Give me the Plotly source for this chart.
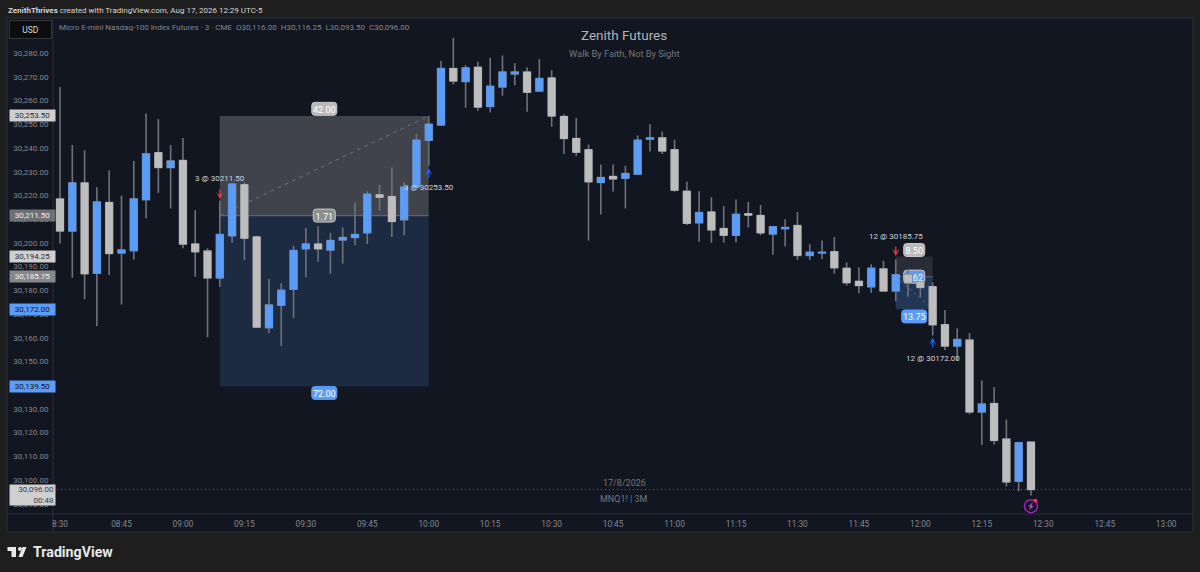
import pandas as pd
import plotly.graph_objects as go

W, H = 1200, 572
LEFT, RIGHT, TOP, BOTTOM = 53, 1193, 18, 514

opens = [
    30218.5, 30205, 30225.25, 30187.25, 30217, 30195.75, 30196.75, 30218.25, 30238, 30231.75,
    30234.75, 30199.5, 30196.5, 30185.25, 30203, 30224.5, 30202.5, 30164.25, 30173.75, 30180.5,
    30197.5, 30199.5, 30197, 30201.25, 30202.25, 30204.25, 30220.25, 30219.5, 30209.75, 30223.5,
    30243.25, 30249.75, 30273.5, 30268, 30274, 30257.5, 30265.75, 30271.25, 30272, 30264,
    30269.5, 30253.25, 30244, 30239.25, 30225.5, 30228, 30227.25, 30229, 30243.75, 30244.25,
    30239.25, 30221.75, 30208.5, 30213, 30206, 30203.25, 30212.25, 30211.5, 30203.75, 30206,
    30207.25, 30194.75, 30195.75, 30196.25, 30189.25, 30183.75, 30181.5, 30189, 30179.75, 30186.5,
    30183.5, 30181.5, 30165.5, 30156.5, 30159, 30128.75, 30132.25, 30117.25, 30099.5, 30116,
]
highs = [
    30265.75, 30241.25, 30239, 30223.5, 30230.5, 30220, 30234.5, 30254.5, 30252.25, 30241.25,
    30244.25, 30213.75, 30197.75, 30217.75, 30225.25, 30225.5, 30203, 30184.75, 30183, 30198.75,
    30206.25, 30207, 30204.25, 30206.5, 30217, 30221.75, 30224.5, 30231.75, 30225.5, 30246,
    30253.5, 30276.75, 30286.5, 30275, 30276.5, 30278, 30279, 30275.75, 30274, 30277.5,
    30272.75, 30254.25, 30252.75, 30241.5, 30233, 30233, 30232.5, 30245.25, 30250, 30247,
    30243.5, 30225.75, 30221.75, 30219.25, 30215.5, 30218.25, 30217.25, 30216, 30206.75, 30210,
    30213, 30199.5, 30201, 30202.5, 30191.75, 30189.75, 30191, 30192.5, 30193, 30188.5,
    30184, 30183.25, 30171.75, 30164, 30162, 30142, 30139.25, 30125.5, 30115.75, 30116.25,
]
lows = [
    30199.75, 30185.25, 30176.25, 30165, 30186.5, 30174, 30193, 30210.25, 30221, 30214.5,
    30197.75, 30185.75, 30160.25, 30181.5, 30200, 30192.75, 30164.25, 30162, 30156.5, 30168.25,
    30185.5, 30192, 30187, 30191.25, 30199, 30199.5, 30213.5, 30202.5, 30203.25, 30223.25,
    30232.5, 30249.25, 30266.75, 30257, 30255.75, 30255, 30262, 30266.5, 30255.25, 30264,
    30249, 30237.5, 30236.5, 30201, 30212, 30221.5, 30214.5, 30229, 30238.5, 30237.5,
    30221.5, 30207.5, 30200.5, 30200, 30200, 30200.25, 30206.5, 30203.25, 30195, 30198.5,
    30192.75, 30192.75, 30193.25, 30187, 30182, 30178.75, 30179, 30179.75, 30175.25, 30177.25,
    30177, 30161, 30154.75, 30150.5, 30127.75, 30114.75, 30115, 30097.25, 30095.25, 30093.5,
]
closes = [
    30205, 30225.25, 30187, 30217.25, 30195.5, 30197, 30218.5, 30237.5, 30231.75, 30234.5,
    30199.5, 30196.25, 30185.25, 30203.5, 30224.75, 30202, 30164.5, 30173.75, 30180, 30196.75,
    30199.5, 30197.5, 30201, 30202.25, 30203.5, 30220.5, 30219.25, 30209, 30223.5, 30243.25,
    30250, 30273.5, 30268.25, 30273.75, 30257.25, 30266, 30272, 30272, 30263.5, 30269.25,
    30253.5, 30244, 30238.25, 30225.75, 30227.5, 30227, 30229.25, 30243.25, 30244.25, 30238.75,
    30222.25, 30208.25, 30212.75, 30205.5, 30203.25, 30212, 30211.75, 30204.25, 30206.75, 30206.5,
    30194.75, 30196, 30196, 30189.5, 30183.25, 30182, 30189.25, 30179.75, 30186.5, 30183.25,
    30181.25, 30165.5, 30156.5, 30159.25, 30128.75, 30132, 30116.75, 30099.25, 30115.75, 30096,
]

price_ticks = [30090, 30100, 30110, 30120, 30130, 30140, 30150, 30160, 30170, 30180, 30190, 30200,
               30210, 30220, 30230, 30240, 30250, 30260, 30270, 30280]
time_ticks = ["08:30", "08:45", "09:00", "09:15", "09:30", "09:45", "10:00", "10:15", "10:30", "10:45",
              "11:00", "11:15", "11:30", "11:45", "12:00", "12:15", "12:30", "12:45", "13:00"]
time_labels = ["8:30"] + time_ticks[1:]

DAY = "2026-08-17 "
BG = "#121620"
OUTER = "#1e1e1e"
LINE = "#2a2e39"
BLUE = "#5b9cf6"
GREY = "#bdbdbd"
WICK = "#6f727a"
AXIS_TEXT = "#85878d"
FONT = "Roboto"

times = pd.date_range(DAY + "08:30", periods=len(opens), freq="3min")
body_high = [max(o, c) for o, c in zip(opens, closes)]
body_low = [min(o, c) for o, c in zip(opens, closes)]

# two position boxes: start, end, entry, top, bottom
box_a = dict(start=DAY + "09:09", end=DAY + "10:00", mid=DAY + "09:34:30",
             entry=30211.5, top=30253.5, bottom=30139.5)
box_b = dict(start=DAY + "11:54", end=DAY + "12:03", mid=DAY + "11:58:30",
             entry=30185.75, top=30194.25, bottom=30172)


def px(x):
    return (x - LEFT) / (RIGHT - LEFT)


def py(y):
    return 1 - (y - TOP) / (BOTTOM - TOP)


fig = go.Figure()
fig.add_trace(go.Candlestick(
    x=times, open=opens, high=highs, low=lows, close=closes,
    increasing=dict(line=dict(color=WICK, width=1.6), fillcolor=WICK),
    decreasing=dict(line=dict(color=WICK, width=1.6), fillcolor=WICK),
    whiskerwidth=0, showlegend=False, hoverinfo="skip",
))
fig.add_trace(go.Candlestick(
    x=times, open=opens, high=body_high, low=body_low, close=closes,
    increasing=dict(line=dict(color=BLUE, width=1), fillcolor=BLUE),
    decreasing=dict(line=dict(color=GREY, width=1), fillcolor=GREY),
    whiskerwidth=0, showlegend=False, hoverinfo="skip",
))

shapes = []
# chart panel and separators
shapes.append(dict(type="rect", xref="paper", yref="paper", x0=px(7), x1=px(1193), y0=py(532), y1=py(18),
                   fillcolor=BG, line=dict(color=LINE, width=1), layer="below"))
shapes.append(dict(type="line", xref="paper", yref="paper", x0=px(53), x1=px(53), y0=py(532), y1=py(18),
                   line=dict(color=LINE, width=1), layer="below"))
shapes.append(dict(type="line", xref="paper", yref="paper", x0=px(7), x1=px(1193), y0=py(514), y1=py(514),
                   line=dict(color=LINE, width=1), layer="below"))
# position boxes
for box, up, down, edge in [(box_a, "#40434c", "#1c2a42", "#5f626a"), (box_b, "#2a2d38", "#223655", "#4a5570")]:
    shapes.append(dict(type="rect", x0=box["start"], x1=box["end"], y0=box["entry"], y1=box["top"],
                       fillcolor=up, line=dict(width=0), layer="below"))
    shapes.append(dict(type="rect", x0=box["start"], x1=box["end"], y0=box["bottom"], y1=box["entry"],
                       fillcolor=down, line=dict(width=0), layer="below"))
    shapes.append(dict(type="line", x0=box["start"], x1=box["end"], y0=box["entry"], y1=box["entry"],
                       line=dict(color=edge, width=1.2), layer="below"))
shapes.append(dict(type="line", x0=box_a["start"], x1=box_a["end"], y0=box_a["entry"], y1=box_a["top"],
                   line=dict(color="#6e7076", width=1, dash="4px,4px"), layer="below"))
shapes.append(dict(type="line", x0=box_b["start"], x1=box_b["end"], y0=box_b["entry"], y1=box_b["bottom"],
                   line=dict(color="#4a5f82", width=1, dash="3px,3px"), layer="below"))
# last price line
shapes.append(dict(type="line", xref="paper", x0=0, x1=1, y0=closes[-1], y1=closes[-1],
                   line=dict(color="#6f7178", width=1, dash="1px,3px"), layer="below"))


def pill(x, y, text, fill, edge, layer="above", w=25):
    hw, hh, r = w / 2, 6.5, 3
    path = (f"M {-hw + r} {-hh} L {hw - r} {-hh} Q {hw} {-hh} {hw} {-hh + r} L {hw} {hh - r} Q {hw} {hh} {hw - r} {hh} "
            f"L {-hw + r} {hh} Q {-hw} {hh} {-hw} {hh - r} L {-hw} {-hh + r} Q {-hw} {-hh} {-hw + r} {-hh} Z")
    return dict(type="path", xsizemode="pixel", ysizemode="pixel", xanchor=x, yanchor=y, path=path,
                fillcolor=fill, line=dict(color=edge, width=1), layer=layer,
                label=dict(text=text, font=dict(family=FONT, size=9, color="#ffffff"), textposition="middle center"))


shapes.append(pill(box_a["mid"], 30256.5, "42.00", "#b9b9b9", "#c9c9c9"))
shapes.append(pill(box_a["mid"], box_a["entry"], "1.71", "#8e8e8e", "#c9c9c9", w=22))
shapes.append(pill(box_a["mid"], 30136.75, "72.00", BLUE, BLUE))
shapes.append(pill(box_b["mid"], 30197, "8.50", "#b9b9b9", "#c9c9c9", w=21))
shapes.append(pill(box_b["mid"], box_b["entry"], "1.62", BLUE, "#c9c9c9", layer="below", w=21))
shapes.append(pill(box_b["mid"], 30169, "13.75", BLUE, BLUE))

# alert icon under the last bar
shapes.append(dict(type="circle", xsizemode="pixel", ysizemode="pixel", xanchor=times[-1], yanchor=30089,
                   x0=-6.5, x1=6.5, y0=-6.5, y1=6.5, line=dict(color="#9c27b0", width=1.5), fillcolor=BG))
shapes.append(dict(type="path", xsizemode="pixel", ysizemode="pixel", xanchor=times[-1], yanchor=30089,
                   path="M 2 4.5 L -3 -0.5 L -0.5 -0.5 L -2 -4.5 L 3 0.5 L 0.5 0.5 Z", fillcolor="#b04ac8",
                   line=dict(width=0)))
shapes.append(dict(type="circle", xsizemode="pixel", ysizemode="pixel", xanchor=times[-1], yanchor=30089,
                   x0=2.5, x1=6.5, y0=3.5, y1=7.5, fillcolor="#f23645", line=dict(width=0)))
# logo
shapes.append(dict(type="path", xref="paper", yref="paper", xsizemode="pixel", ysizemode="pixel",
                   xanchor=px(0), yanchor=py(572),
                   path="M 7.5 25 L 16 25 L 16 15 L 11.5 15 L 11.5 21 L 7.5 21 Z "
                        "M 22.5 25 L 26.5 25 L 22.5 15 L 18.5 15 Z "
                        "M 18 23 Q 18 25 20 25 Q 22 25 22 23 Q 22 21 20 21 Q 18 21 18 23 Z",
                   fillcolor="#e8e8e8", line=dict(width=0)))

annotations = []


def label(x, y, text, size, color, xref="x", yref="y", xanchor="center", **kw):
    annotations.append(dict(x=x, y=y, xref=xref, yref=yref, text=text, showarrow=False, xanchor=xanchor,
                            yanchor="middle", font=dict(family=FONT, size=size, color=color), **kw))


label(px(6), py(10), "<b>ZenithThrives</b> created with TradingView.com, Aug 17, 2026 12:29 UTC-5", 8, "#d6d6d6",
      "paper", "paper", "left")
label(px(56.5), py(27), "Micro E-mini Nasdaq-100 Index Futures · 3 · CME &nbsp;O30,116.00 &nbsp;H30,116.25 "
      "&nbsp;L30,093.50 &nbsp;C30,096.00", 8, "#85878d", "paper", "paper", "left")
label(px(30.5), py(29), "USD", 8.5, "#d6d6d6", "paper", "paper", bgcolor="#0d0d0d", bordercolor="#33363d",
      borderwidth=1, width=39, height=15)
label(px(624), py(35), "Zenith Futures", 13.5, "#b2b3b6", "paper", "paper")
label(px(624), py(53), "Walk By Faith, Not By Sight", 9.3, "#74767c", "paper", "paper")
label(px(624), py(483), "17/8/2026", 9, "#74767c", "paper", "paper")
label(px(624), py(499), "MNQ1! | 3M", 9, "#74767c", "paper", "paper")
label(px(30.5), py(552), "<b>TradingView</b>", 14.2, "#e8e8e8", "paper", "paper", "left")

label(DAY + "09:09", 30227.25, "3 @ 30211.50", 8, "#d1d4dc")
label(DAY + "10:00", 30223.5, "3 @ 30253.50", 8, "#d1d4dc")
label(DAY + "11:54", 30202.5, "12 @ 30185.75", 8, "#d1d4dc")
label(DAY + "12:03", 30151.25, "12 @ 30172.00", 8, "#d1d4dc")

for x, y, ay, color in [(DAY + "09:09", 30218.5, -11, "#f23645"), (DAY + "10:00", 30231.5, 11, "#2962ff"),
                        (DAY + "11:54", 30194.5, -11, "#f23645"), (DAY + "12:03", 30160, 11, "#2962ff")]:
    annotations.append(dict(x=x, y=y, ax=0, ay=ay, text="", showarrow=True, arrowhead=3, arrowsize=1,
                            arrowwidth=1.2, arrowcolor=color))

# price tags on the axis
for price, fill, color in [(30253.5, "#cfcfcf", "#2a2e39"), (30211.5, "#6f7075", "#f0f0f0"),
                           (30194.25, "#cfcfcf", "#2a2e39"), (30185.75, "#86878b", "#f0f0f0"),
                           (30172, BLUE, "#131722"), (30139.5, BLUE, "#131722")]:
    annotations.append(dict(x=0, y=price, xref="paper", yref="y", text=f"{price:,.2f}", showarrow=False,
                            xanchor="right", yanchor="middle", xshift=2.5, width=43, height=9, bgcolor=fill,
                            align="center", font=dict(family=FONT, size=8, color=color)))
annotations.append(dict(x=0, y=py(495), xref="paper", yref="paper", text="30,096.00<br>00:48", showarrow=False,
                        xanchor="right", yanchor="middle", xshift=2.5, width=43, height=18, bgcolor="#cfcfcf",
                        align="right", font=dict(family=FONT, size=8, color="#3a3d45")))

fig.update_layout(
    width=W, height=H, margin=dict(l=LEFT, r=W - RIGHT, t=TOP, b=H - BOTTOM),
    paper_bgcolor=OUTER, plot_bgcolor=BG, boxgap=0.2, showlegend=False,
    font=dict(family=FONT, color=AXIS_TEXT),
    shapes=shapes, annotations=annotations,
    xaxis=dict(
        type="date", range=[DAY + "08:28:17", DAY + "13:06:33"], rangeslider=dict(visible=False),
        tickvals=[DAY + t for t in time_ticks], ticktext=time_labels, showgrid=False, zeroline=False,
        tickfont=dict(family=FONT, size=8.3, color=AXIS_TEXT), ticks="outside", ticklen=2, tickcolor="rgba(0,0,0,0)",
    ),
    yaxis=dict(
        range=[30085.7, 30294.8], tickvals=price_ticks, tickformat=",.2f", showgrid=False, zeroline=False,
        tickfont=dict(family=FONT, size=8, color=AXIS_TEXT), ticks="outside", ticklen=2, tickcolor="rgba(0,0,0,0)",
    ),
)

fig.write_html("out.html", config={"displayModeBar": False}, post_script="document.body.style.margin='0';")
